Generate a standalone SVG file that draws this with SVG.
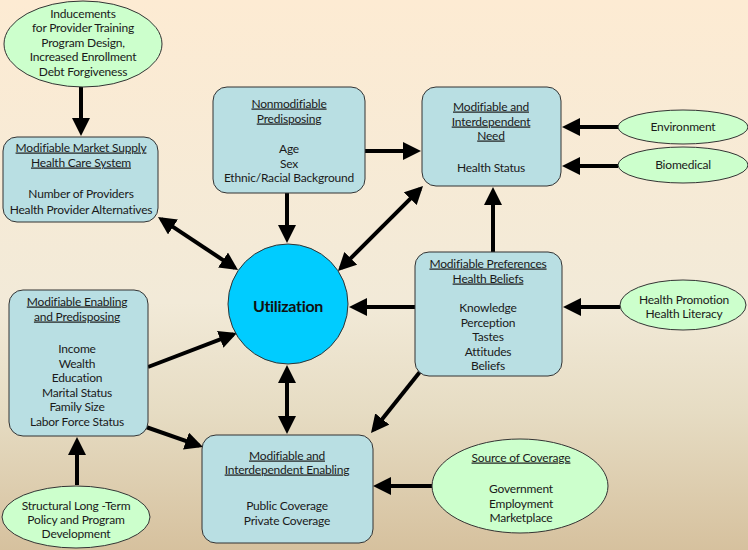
<svg xmlns="http://www.w3.org/2000/svg" width="748" height="550" viewBox="0 0 748 550">
<defs>
<linearGradient id="bg" x1="0" y1="0" x2="0" y2="1">
<stop offset="0" stop-color="#FDEBD3"/>
<stop offset="0.55" stop-color="#F2EAD8"/>
<stop offset="0.75" stop-color="#E6DCC3"/>
<stop offset="1" stop-color="#D6C19E"/>
</linearGradient>
<marker id="ah" viewBox="0 0 18 18" refX="14" refY="9" markerWidth="18" markerHeight="18" markerUnits="userSpaceOnUse" orient="auto-start-reverse">
<path d="M0,0 L18,9 L0,18 z" fill="#000"/>
</marker>
<style>
.box{fill:#B9DFE3;stroke:#333;stroke-width:1}
.ell{fill:#CCFFCC;stroke:#333;stroke-width:1}
.t{font-family:Lato,"Liberation Sans",sans-serif;font-size:12px;letter-spacing:-0.2px;fill:#1a1a1a;text-anchor:middle}
.u{text-decoration:underline}
.c{fill:none;stroke:#000;stroke-width:4}
.one{marker-end:url(#ah)}
.two{marker-start:url(#ah);marker-end:url(#ah)}
</style>
</defs>
<rect x="0" y="0" width="748" height="550" fill="url(#bg)"/>

<g id="connectors">
<line class="c one" x1="81" y1="87" x2="81" y2="132"/>
<line class="c one" x1="287" y1="193" x2="287" y2="239"/>
<line class="c one" x1="365" y1="151" x2="417" y2="151"/>
<line class="c one" x1="618" y1="127" x2="566" y2="127"/>
<line class="c one" x1="618" y1="166" x2="566" y2="166"/>
<line class="c two" x1="161.3" y1="219.2" x2="234.7" y2="267.8"/>
<line class="c two" x1="420.2" y1="188.8" x2="340.8" y2="268.2"/>
<line class="c one" x1="415" y1="307" x2="353" y2="307"/>
<line class="c one" x1="493" y1="252" x2="493" y2="191"/>
<line class="c one" x1="620" y1="307" x2="567" y2="307"/>
<line class="c one" x1="423" y1="368" x2="373.5" y2="429.9"/>
<line class="c one" x1="148" y1="367" x2="233.3" y2="334.4"/>
<line class="c one" x1="146" y1="427" x2="199.2" y2="445.7"/>
<line class="c two" x1="287" y1="369" x2="287" y2="430"/>
<line class="c one" x1="77" y1="485" x2="77" y2="441"/>
<line class="c one" x1="432" y1="486" x2="377" y2="486"/>
</g>

<g id="inducements">
<ellipse class="ell" cx="83" cy="44" rx="79" ry="43"/>
<text class="t" x="83" y="17.5">Inducements</text>
<text class="t" x="83" y="32">for Provider Training</text>
<text class="t" x="83" y="46.5">Program Design,</text>
<text class="t" x="83" y="61">Increased Enrollment</text>
<text class="t" x="83" y="75.5">Debt Forgiveness</text>
</g>

<g id="market-supply">
<rect class="box" x="3" y="137" width="155" height="85" rx="14"/>
<text class="t u" x="81" y="151.5">Modifiable Market Supply</text>
<text class="t u" x="81" y="166.5">Health Care System</text>
<text class="t" x="81" y="197.5">Number of Providers</text>
<text class="t" x="81" y="213.5">Health Provider Alternatives</text>
</g>

<g id="nonmodifiable">
<rect class="box" x="213" y="87" width="152" height="106" rx="14"/>
<text class="t u" x="289" y="107.5">Nonmodifiable</text>
<text class="t u" x="289" y="122.5">Predisposing</text>
<text class="t" x="289" y="152.5">Age</text>
<text class="t" x="289" y="167.5">Sex</text>
<text class="t" x="289" y="181.5">Ethnic/Racial Background</text>
</g>

<g id="need">
<rect class="box" x="422" y="87" width="139" height="99" rx="14"/>
<text class="t u" x="491" y="110.5">Modifiable and</text>
<text class="t u" x="491" y="125.5">Interdependent</text>
<text class="t u" x="491" y="139.5">Need</text>
<text class="t" x="491" y="171.5">Health Status</text>
</g>

<g id="environment">
<ellipse class="ell" cx="683" cy="127" rx="65" ry="17"/>
<text class="t" x="683" y="130.5">Environment</text>
</g>

<g id="biomedical">
<ellipse class="ell" cx="683" cy="165" rx="65" ry="18"/>
<text class="t" x="683" y="168.5">Biomedical</text>
</g>

<g id="utilization">
<circle cx="288" cy="304" r="60" fill="#00CCFF" stroke="#333" stroke-width="1"/>
<text x="288" y="312" text-anchor="middle" font-family="Lato,'Liberation Sans',sans-serif" font-size="16" letter-spacing="-0.3" font-weight="bold" fill="#111">Utilization</text>
</g>

<g id="preferences">
<rect class="box" x="415" y="252" width="147" height="124" rx="14"/>
<text class="t u" x="488" y="267.5">Modifiable Preferences</text>
<text class="t u" x="488" y="282.5">Health Beliefs</text>
<text class="t" x="488" y="311.5">Knowledge</text>
<text class="t" x="488" y="326.5">Perception</text>
<text class="t" x="488" y="340.5">Tastes</text>
<text class="t" x="488" y="355.5">Attitudes</text>
<text class="t" x="488" y="369.5">Beliefs</text>
</g>

<g id="health-promotion">
<ellipse class="ell" cx="683" cy="305" rx="63" ry="25"/>
<text class="t" x="684" y="303.5">Health Promotion</text>
<text class="t" x="684" y="317.5">Health Literacy</text>
</g>

<g id="enabling-predisposing">
<rect class="box" x="9" y="290" width="139" height="146" rx="14"/>
<text class="t u" x="77" y="305.5">Modifiable Enabling</text>
<text class="t u" x="77" y="320.5">and Predisposing</text>
<text class="t" x="77" y="352.5">Income</text>
<text class="t" x="77" y="367.5">Wealth</text>
<text class="t" x="77" y="381.5">Education</text>
<text class="t" x="77" y="396.5">Marital Status</text>
<text class="t" x="77" y="410.5">Family Size</text>
<text class="t" x="77" y="425.5">Labor Force Status</text>
</g>

<g id="interdependent-enabling">
<rect class="box" x="202" y="435" width="171" height="108" rx="14"/>
<text class="t u" x="287" y="459.5">Modifiable and</text>
<text class="t u" x="287" y="473.5">Interdependent Enabling</text>
<text class="t" x="287" y="509.5">Public Coverage</text>
<text class="t" x="287" y="524.5">Private Coverage</text>
</g>

<g id="structural">
<ellipse class="ell" cx="76" cy="517" rx="74" ry="31"/>
<text class="t" x="76" y="509.5">Structural Long -Term</text>
<text class="t" x="76" y="523.5">Policy and Program</text>
<text class="t" x="76" y="537.5">Development</text>
</g>

<g id="source-coverage">
<ellipse class="ell" cx="520" cy="486" rx="88" ry="47"/>
<text class="t u" x="521" y="461.5">Source of Coverage</text>
<text class="t" x="521" y="492.5">Government</text>
<text class="t" x="521" y="507.5">Employment</text>
<text class="t" x="521" y="521.5">Marketplace</text>
</g>
</svg>
